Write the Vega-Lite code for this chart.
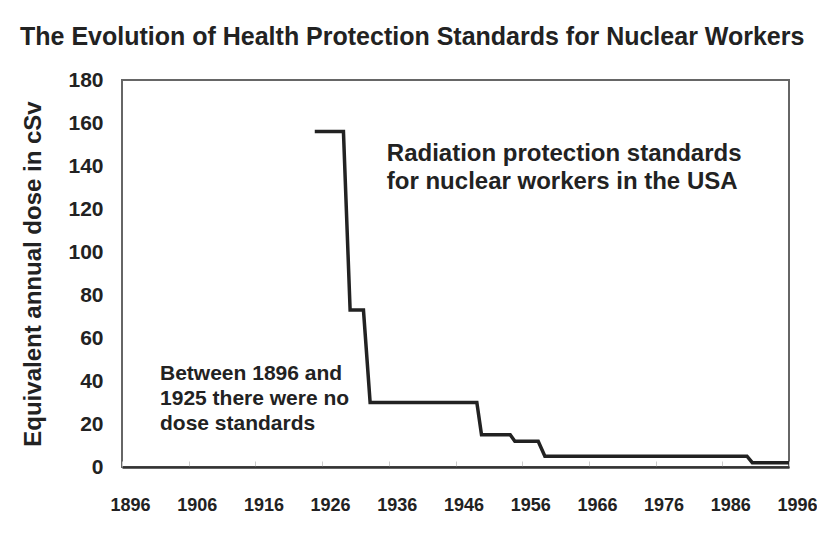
{
  "$schema": "https://vega.github.io/schema/vega-lite/v6.json",
  "autosize": {"type": "none"},
  "width": 667,
  "height": 387,
  "padding": {"left": 122, "top": 80, "right": 28, "bottom": 66},
  "background": "white",
  "title": {
    "text": "The Evolution of Health Protection Standards for Nuclear Workers",
    "anchor": "start",
    "frame": "group",
    "dx": -102,
    "dy": 13,
    "offset": 32,
    "font": "Liberation Sans",
    "fontSize": 25,
    "fontWeight": "bold",
    "color": "#222"
  },
  "config": {
    "view": {"stroke": "#666", "strokeWidth": 2},
    "font": "Liberation Sans"
  },
  "datasets": {
    "standards": [
      {"year": 1924.9, "dose": 156},
      {"year": 1929.2, "dose": 156},
      {"year": 1930.2, "dose": 73},
      {"year": 1932.2, "dose": 73},
      {"year": 1933.2, "dose": 30},
      {"year": 1949.2, "dose": 30},
      {"year": 1949.9, "dose": 15},
      {"year": 1954.2, "dose": 15},
      {"year": 1954.9, "dose": 12},
      {"year": 1958.4, "dose": 12},
      {"year": 1959.4, "dose": 5},
      {"year": 1989.7, "dose": 5},
      {"year": 1990.5, "dose": 2},
      {"year": 1996, "dose": 2}
    ],
    "notes": [
      {"group": "usa", "year": 1935.7, "dose": 142.3, "text": ["Radiation protection standards", "for nuclear workers in the USA"]},
      {"group": "none", "year": 1901.7, "dose": 40.3, "text": ["Between 1896 and", "1925 there were no", "dose standards"]}
    ]
  },
  "layer": [
    {
      "data": {"name": "standards"},
      "mark": {"type": "line", "color": "#222", "strokeWidth": 3.5, "clip": true},
      "encoding": {
        "x": {
          "field": "year", "type": "quantitative",
          "scale": {"domain": [1896, 1996], "nice": false, "zero": false},
          "axis": {
            "title": null,
            "values": [1896, 1906, 1916, 1926, 1936, 1946, 1956, 1966, 1976, 1986, 1996],
            "format": "d",
            "grid": false,
            "domainColor": "#333",
            "domainWidth": 2.5,
            "tickSize": -6,
            "tickColor": "#ccc",
            "tickWidth": 1,
            "labelFont": "Liberation Sans",
            "labelFontSize": 18,
            "labelFontWeight": "bold",
            "labelColor": "#222",
            "labelPadding": 35,
            "labelOffset": 8,
            "labelFlush": false,
            "labelOverlap": false
          }
        },
        "y": {
          "field": "dose", "type": "quantitative",
          "scale": {"domain": [0, 180], "nice": false},
          "axis": {
            "title": "Equivalent annual dose in cSv",
            "titleFont": "Liberation Sans",
            "titleFontSize": 24,
            "titleFontWeight": "bold",
            "titleColor": "#222",
            "titlePadding": 22,
            "values": [0, 20, 40, 60, 80, 100, 120, 140, 160, 180],
            "grid": false,
            "domain": false,
            "ticks": false,
            "labelFont": "Liberation Sans",
            "labelFontSize": 21,
            "labelFontWeight": "bold",
            "labelColor": "#222",
            "labelPadding": 19
          }
        }
      }
    },
    {
      "data": {"name": "notes"},
      "transform": [{"filter": "datum.group === 'usa'"}],
      "mark": {"type": "text", "align": "left", "baseline": "alphabetic", "font": "Liberation Sans", "fontWeight": "bold", "fontSize": 24, "lineHeight": 28, "color": "#222"},
      "encoding": {
        "x": {"field": "year", "type": "quantitative"},
        "y": {"field": "dose", "type": "quantitative"},
        "text": {"field": "text"}
      }
    },
    {
      "data": {"name": "notes"},
      "transform": [{"filter": "datum.group === 'none'"}],
      "mark": {"type": "text", "align": "left", "baseline": "alphabetic", "font": "Liberation Sans", "fontWeight": "bold", "fontSize": 21, "lineHeight": 25, "color": "#222"},
      "encoding": {
        "x": {"field": "year", "type": "quantitative"},
        "y": {"field": "dose", "type": "quantitative"},
        "text": {"field": "text"}
      }
    }
  ]
}
